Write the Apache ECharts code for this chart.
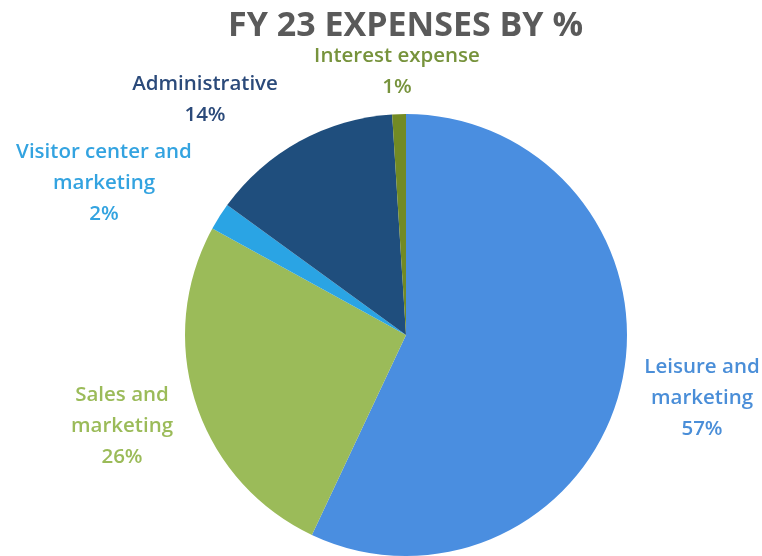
<!DOCTYPE html>
<html><head><meta charset="utf-8">
<script src="https://cdn.jsdelivr.net/npm/echarts@6/dist/echarts.min.js"></script>
<style>html,body{margin:0;padding:0;background:#fff}#c{width:762px;height:556px}</style>
</head><body><div id="c"></div>
<script>
const categories = ['Leisure and\nmarketing', 'Sales and\nmarketing', 'Visitor center and\nmarketing', 'Administrative', 'Interest expense'];
const values = [57, 26, 2, 14, 1];
const sliceColors = ['#4a8ee0', '#9bbb59', '#2aa4e4', '#1f4e7d', '#728a24'];
const labelColors = ['#4a8ed8', '#9bbb59', '#33a3e0', '#2b4a7a', '#77933c'];
const labelAnchors = [[702, 398], [122, 426], [104, 183], [205, 100], [397, 72]];

const chart = echarts.init(document.getElementById('c'));
chart.setOption({
  animation: false,
  title: {
    text: 'FY 23 EXPENSES BY %', left: 223, top: 4,
    textStyle: { fontFamily: 'Open Sans', fontWeight: 'bold', fontSize: 34, color: '#5a5a5a' }
  },
  series: [{
    type: 'pie',
    center: [406, 335],
    radius: [0, 221],
    startAngle: 90,
    clockwise: true,
    data: categories.map((n, i) => ({
      name: n, value: values[i],
      itemStyle: { color: sliceColors[i] },
      label: { color: labelColors[i] }
    })),
    itemStyle: { borderWidth: 0 },
    label: {
      show: true, position: 'outside',
      formatter: '{b}\n{d}%',
      fontFamily: 'Open Sans', fontWeight: 600, fontSize: 20.5, lineHeight: 31,
      align: 'center', overflow: 'none', edgeDistance: 0, bleedMargin: 0
    },
    labelLine: { show: false },
    labelLayout: function (p) {
      const a = labelAnchors[p.dataIndex];
      return { x: a[0], y: a[1], align: 'center', verticalAlign: 'middle' };
    }
  }]
});
</script>
</body></html>
